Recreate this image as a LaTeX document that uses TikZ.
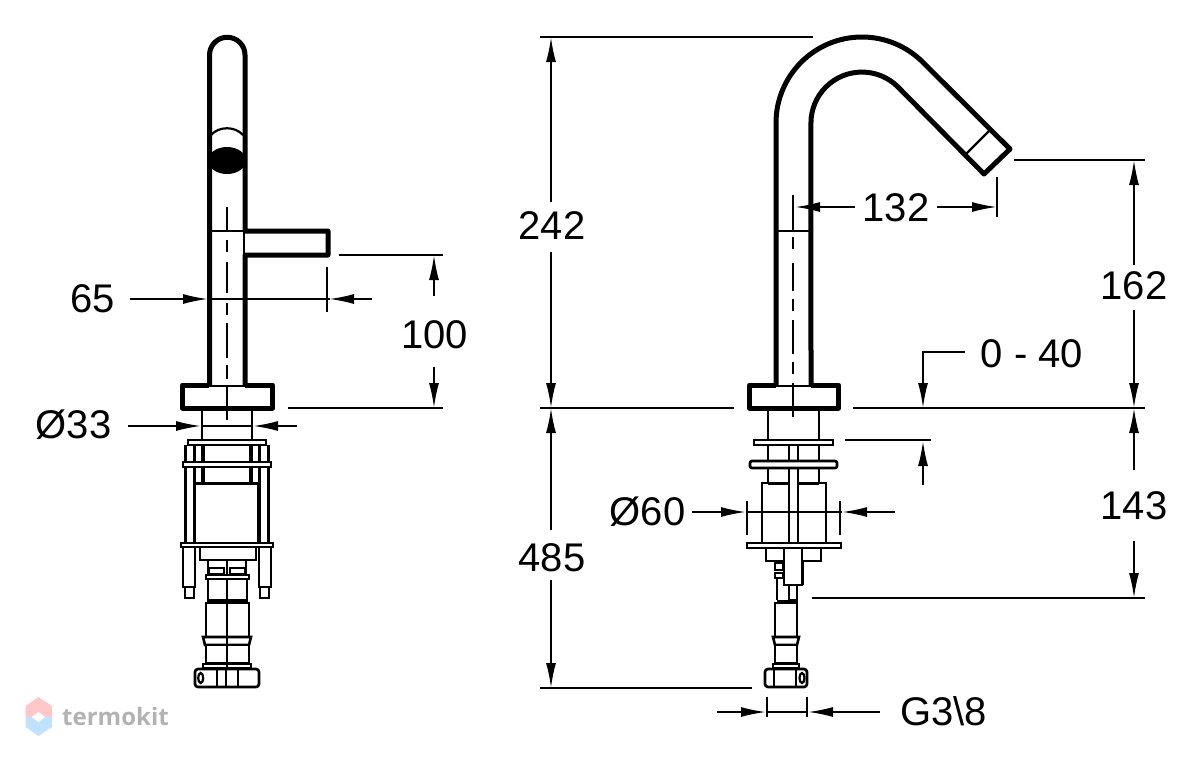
\documentclass[tikz,border=0pt]{standalone}
\usepackage{fontspec}
\setmainfont{Liberation Sans}
\setsansfont{Open Sans}
\usetikzlibrary{positioning,arrows.meta}

\tikzset{
    body/.style={line width=5pt,line join=round},
    edge/.style={line width=2.2pt},
    part/.style={line width=2.6pt,fill=white},
    axis/.style={line width=2.6pt},
    dim/.style={line width=1.8pt},
    dimarrow/.style={line width=1.8pt,-{Latex[length=25pt,width=10pt]}},
    size/.style={inner sep=0pt,font=\fontsize{40}{41}\selectfont}
}

\begin{document}
\begin{tikzpicture}[x=1pt,y=-1pt]
\useasboundingbox (0,0) rectangle (1200,761);

% front view, spout
\draw[body] (209.5,385) -- (209.5,55) arc[start angle=180,end angle=360,radius=17.75] -- (245,231) -- (328,231) -- (328,255) -- (245,255) -- (245,385);
\draw[edge] (244,231) -- (244,255);
\draw[edge] (210,231) -- (245,231);
\draw[edge] (211,135) .. controls (219,126) and (235,126) .. (243,135);
\fill (227,160.5) ellipse[x radius=19,y radius=13.5];
\foreach \a/\b in {207/231,240/252,262/293,303/315,323/358,365/379} {
    \draw[axis] (227,\a) -- (227,\b);
}

% front view, base
\draw[body] (209,385) -- (182.5,385) -- (182.5,408) -- (272.5,408) -- (272.5,385) -- (245,385);
\draw[edge] (209,386) -- (245,386);
\draw[axis] (227,387) -- (227,420);
\foreach \x in {202,252} {
    \draw[edge] (\x,410) -- (\x,440);
    \draw[edge] (\x,445) -- (\x,482);
}
\foreach \s in {-1,1} {
    \draw[edge] ({227+\s*32.5},445) -- ({227+\s*32.5},543);
    \draw[edge] ({227+\s*41.5},445) -- ({227+\s*41.5},543);
    \draw[edge] ({227+\s*23},445) -- ({227+\s*23},482);
    \draw[part] ({227+\s*32},547) -- ({227+\s*32},587) -- ({227+\s*44},587) -- ({227+\s*44},547);
    \draw[part] ({227+\s*33},587) rectangle ({227+\s*42},598);
}
\draw[part] (188,440) rectangle (266,445);
\draw[part] (183,462) rectangle (271,467);
\draw[part] (195,483) rectangle (258,543);
\draw[line width=3pt] (195,483) -- (258,483);
\draw[part] (181,543) rectangle (273,547);
\draw[part] (200,547) rectangle (256,560);
\draw[edge] (208,560) -- (208,575) (246,560) -- (246,575) (227,560) -- (227,575);
\draw[edge] (209,568) rectangle (224,574) (230,568) rectangle (245,574);
\draw[part] (206,575) rectangle (249,579);
\draw[part] (208,579) rectangle (247,600);
\draw[part] (206,603) rectangle (249,637);
\draw[line width=3pt] (207,602) -- (248,602);
\draw[part] (203,637) -- (251,637) -- (249,645) -- (205,645) -- cycle;
\draw[part] (206,645) rectangle (249,663);
\draw[part] (203,664) rectangle (251,668);
\draw[part,rounded corners=3pt] (195,669) rectangle (259,687);
\foreach \x in {217,226,238} {
    \draw[edge] (\x,669) -- (\x,687);
}
\draw[edge] (200.7,678) ellipse[x radius=2.5,y radius=5];
\draw[edge] (227,579) -- (227,669);

% side view, spout
\draw[body] (776,385) -- (776,123) arc[start angle=180,end angle=315,radius=86] -- (1010,149) -- (984,174) -- (898,87) arc[start angle=315,end angle=180,radius=51] -- (811,385);
\draw[edge] (965.5,154.5) -- (991.5,128.5);
\draw[edge] (776,231) -- (811,231);
\foreach \a/\b in {195/228,237/249,263/291,299/311,320/354,362/374} {
    \draw[axis] (793,\a) -- (793,\b);
}

% side view, base
\draw[body] (776,385) -- (749.5,385) -- (749.5,408) -- (838.5,408) -- (838.5,385) -- (811,385);
\draw[edge] (776,386) -- (811,386);
\draw[axis] (793,383) -- (793,417);
\foreach \x in {768,819} {
    \draw[edge] (\x,410) -- (\x,440);
    \draw[edge] (\x,445) -- (\x,483);
}
\draw[part] (762,483) rectangle (826,543);
\draw[line width=3pt] (768,483) -- (819,483);
\draw[part] (789,445) rectangle (798,543);
\draw[part] (754,440) rectangle (833,445);
\draw[part,rounded corners=2pt] (750,461) rectangle (837,468);
\draw[part] (747,543) rectangle (841,548);
\draw[part] (766,548) rectangle (821,561);
\draw[edge] (803,561) -- (803,585);
\draw[part] (775,563) rectangle (783,570);
\draw[part] (775,573) rectangle (783,578);
\draw[edge] (777,578) -- (777,600);
\draw[part] (789,585) rectangle (797,600);
\draw[part] (784,548) rectangle (802,585);
\draw[line width=3pt] (777,601) -- (798,601);
\draw[part] (775,603) rectangle (797,637);
\draw[part] (773,637) -- (799,637) -- (797,645) -- (775,645) -- cycle;
\draw[part] (775,645) rectangle (797,663);
\draw[part] (773,664) rectangle (799,668);
\draw[part,rounded corners=3pt] (765,669) rectangle (807,687);
\foreach \x in {774,796} {
    \draw[edge] (\x,669) -- (\x,687);
}
\draw[edge] (802,678) ellipse[x radius=2.5,y radius=5];

% sizes, front view
\node[size] (handleoffset) at (93,299) {65};
\draw[dimarrow] (130,299) -- (208,299);
\draw[dim] (208,299) -- (330,299);
\draw[dimarrow] (372,299) -- (329,299);
\draw[dim] (327,267) -- (327,312);
\node[size] (handleheight) at (434.5,335) {100};
\draw[dim] (339,255) -- (443,255);
\draw[dim] (288,408) -- (443,408);
\draw[dimarrow] (434,296) -- (434,255);
\draw[dimarrow] (434,367) -- (434,408);
\node[size] (neckwidth) at (73.5,425) {Ø33};
\draw[dimarrow] (128,426) -- (201,426);
\draw[dimarrow] (297,426) -- (253,426);
\draw[dim] (201,426) -- (253,426);

% sizes, side view
\node[size] (totalheight) at (552,226) {242};
\node[size] (lowerheight) at (552,558) {485};
\node[size] (spoutheight) at (1134,286) {162};
\node[size] (fixheight) at (1134,506) {143};
\node[size] (reach) at (896,208) {132};
\node[size] (thickness) at (1032,354) {0 - 40};
\node[size] (holewidth) at (647.5,512) {Ø60};
\node[size] (thread) at (943.5,711) {G3\textbackslash 8};
\draw[dim] (540,37) -- (813,37);
\draw[dim] (540,408) -- (734,408);
\draw[dim] (853,408) -- (1145,408);
\draw[dim] (540,688) -- (752,688);
\draw[dim] (1014,160) -- (1145,160);
\draw[dim] (812,598) -- (1145,598);
\draw[dimarrow] (551,202) -- (551,37);
\draw[dimarrow] (551,252) -- (551,408);
\draw[dimarrow] (551,530) -- (551,408);
\draw[dimarrow] (551,580) -- (551,688);
\draw[dimarrow] (1134,265) -- (1134,160);
\draw[dimarrow] (1134,310) -- (1134,408);
\draw[dimarrow] (1134,470) -- (1134,408);
\draw[dimarrow] (1134,541) -- (1134,598);
\draw[dimarrow] (855,207) -- (795,207);
\draw[dimarrow] (937,207) -- (997,207);
\draw[dim] (793,195) -- (793,231);
\draw[dim] (997,177) -- (997,217);
\draw[dimarrow] (965,352) -- (923,352) -- (923,408);
\draw[dim] (845,440) -- (931,440);
\draw[dimarrow] (923,485) -- (923,441);
\draw[dimarrow] (692,512) -- (746,512);
\draw[dimarrow] (895,512) -- (842,512);
\draw[dim] (746,512) -- (842,512);
\draw[dim] (747,501) -- (747,535);
\draw[dim] (840,501) -- (840,535);
\draw[dimarrow] (717,712) -- (766,712);
\draw[dimarrow] (880,712) -- (808,712);
\draw[dim] (766,712) -- (808,712);
\draw[dim] (767,697) -- (767,717);
\draw[dim] (807,697) -- (807,717);

% mark in the corner
\fill[red!22!white] (38.5,697) -- (52,706) -- (52,717) -- (25.5,717) -- (25.5,706) -- cycle;
\fill[blue!45!cyan!25!white] (25.5,717) -- (52,717) -- (52,727) -- (38.5,736) -- (25.5,727) -- cycle;
\fill[white] (31.5,717) -- (38.5,712) -- (45,717) -- (38.5,722) -- cycle;
\node[inner sep=0pt,text=black!30,font=\fontsize{24}{24}\selectfont\sffamily\bfseries] (brand) at (115.5,716) {termokit};
\end{tikzpicture}
\end{document}
